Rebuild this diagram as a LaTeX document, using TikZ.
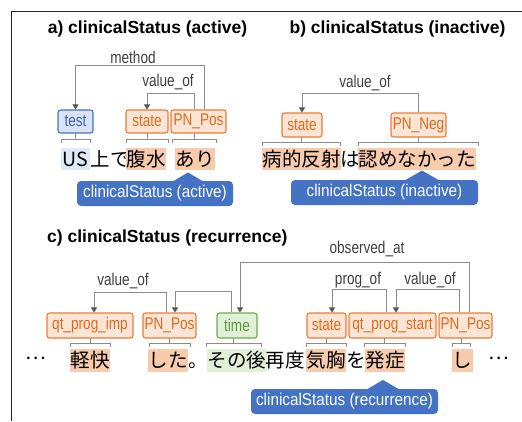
\documentclass[tikz,border=0pt]{standalone}
\usepackage{fontspec}
\setmainfont{Liberation Sans}
\newfontfamily\jpfont{Noto Sans CJK JP}
\newfontfamily\nrwfont[FakeStretch=0.8]{Liberation Sans}
\newfontfamily\calfont[FakeStretch=0.9]{Liberation Sans}
\usetikzlibrary{arrows.meta,calc}
\definecolor{obord}{HTML}{ED7D31}
\definecolor{ofill}{HTML}{FBE5D6}
\definecolor{otext}{HTML}{E06A1B}
\definecolor{ohl}{HTML}{F8CBAD}
\definecolor{bbord}{HTML}{4472C4}
\definecolor{bfill}{HTML}{DAE3F3}
\definecolor{btext}{HTML}{3A66B8}
\definecolor{bhl}{HTML}{DEEBF7}
\definecolor{gbord}{HTML}{70AD47}
\definecolor{gfill}{HTML}{E2F0D9}
\definecolor{gtext}{HTML}{5A9A3A}
\definecolor{ghl}{HTML}{E2F0D9}
\definecolor{callb}{HTML}{4472C4}
\definecolor{connc}{HTML}{8C8C8C}
\definecolor{arrc}{HTML}{555555}
\definecolor{lblc}{HTML}{404040}
\newcommand\mybrk[4]{%
  \draw[brk] (#1,#3+4) -- (#1,#3) -- (#2,#3) -- (#2,#3+4);
  \draw[brk] (#1/2+#2/2,#3) -- (#1/2+#2/2,#4);}
\begin{document}
\begin{tikzpicture}[x=1pt,y=-1pt,
  box/.style={draw, rounded corners=2.5pt, line width=1.1pt, inner sep=0pt,
    font=\nrwfont\fontsize{17}{19}\selectfont},
  obox/.style={box, draw=obord, fill=ofill, text=otext},
  bbox/.style={box, draw=bbord, fill=bfill, text=btext},
  gbox/.style={box, draw=gbord, fill=gfill, text=gtext},
  ttl/.style={font=\fontsize{17.5}{20}\selectfont\bfseries, inner sep=0pt},
  lab/.style={font=\nrwfont\fontsize{17}{19}\selectfont, text=lblc, inner sep=0pt},
  conn/.style={draw=connc, line width=0.9pt, -{Triangle[length=5pt,width=6pt,color=arrc]}},
  brk/.style={draw=connc, line width=0.9pt},
  tok/.style={anchor=base west, inner xsep=0.5pt, inner ysep=1.5pt,
    text height=17pt, text depth=2.5pt, font=\jpfont\fontsize{19.5}{22}\selectfont},
  hlo/.style={tok, fill=ohl},
  call/.style={fill=callb, rounded corners=4pt, inner sep=0pt, text=white,
    font=\calfont\fontsize{17}{19}\selectfont},
]
\useasboundingbox (0,0) rectangle (522,421);
\fill[white] (0,0) rectangle (522,421);
\draw[line width=1pt, black!85] (11,421) -- (11,11) -- (522,11);

% titles
\node[ttl] (ta) at (147.5,29) {a) clinicalStatus (active)};
\node[ttl] (tb) at (397.5,29) {b) clinicalStatus (inactive)};
\node[ttl, anchor=west] (tc) at (47,238) {c) clinicalStatus (recurrence)};

% ---------- panel a ----------
\node[bbox, minimum width=35pt, minimum height=23pt] (atest) at (75.5,121.5) {test};
\node[obox, minimum width=42pt, minimum height=23pt] (astate) at (147,121.5) {state};
\node[obox, minimum width=55pt, minimum height=23pt] (apn) at (198.5,121.5) {PN\_Pos};

\coordinate (ra1) at (0,65);
\coordinate (ra2) at (0,93);
\draw[conn] ($(apn.north)+(5.5,0)$) coordinate (sa1) -- (sa1 |- ra1) -| (atest.north);
\draw[conn] ($(apn.north)+(-4.5,0)$) coordinate (sa2) -- (sa2 |- ra2) -| (astate.north);
\node[lab] (lmethod) at (133,57) {method};
\node[lab] (lvala) at (168,82) {value\_of};

\mybrk{61}{90}{139}{133}
\mybrk{126}{168}{139}{133}
\mybrk{172}{216}{139}{133}

\node[tok, fill=bhl, minimum width=29pt] (wus) at (61,166) {US};
\node[tok] (wue) at (90,166) {上で};
\node[hlo] (wfk) at (126,166) {腹水};
\node[hlo] (wari) at (175,166) {あり};

\node[call, minimum width=156pt, minimum height=25pt] (ca) at (155,193.5) {clinicalStatus (active)};
\coordinate (tipa) at (188,172.5);
\fill[callb] ($(ca.north -| tipa)+(-15,0.5)$) -- (tipa) -- ($(ca.north -| tipa)+(15,0.5)$) -- cycle;

% ---------- panel b ----------
\node[obox, minimum width=40pt, minimum height=24pt] (bstate) at (302,125) {state};
\node[obox, minimum width=55pt, minimum height=24pt] (bpn) at (418.5,125) {PN\_Neg};
\coordinate (rb1) at (0,93);
\draw[conn] (bpn.north) -- (bpn.north |- rb1) -| (bstate.north);
\node[lab] (lvalb) at (365,83) {value\_of};

\mybrk{262}{340}{142}{137}
\mybrk{358}{478}{142}{137}

\node[hlo] (wbt) at (262,166) {病的反射};
\node[tok] (wha) at (340,166) {は};
\node[hlo] (wmt) at (358,166) {認めなかった};

\node[call, minimum width=187pt, minimum height=25pt] (cb) at (384.5,192.5) {clinicalStatus (inactive)};
\coordinate (tipb) at (422,170.5);
\fill[callb] ($(cb.north -| tipb)+(-17,0.5)$) -- (tipb) -- ($(cb.north -| tipb)+(17,0.5)$) -- cycle;

% ---------- panel c ----------
\node[obox, minimum width=86pt, minimum height=25pt] (cqimp) at (90,325.5) {qt\_prog\_imp};
\node[obox, minimum width=53pt, minimum height=25pt] (cpn1) at (169.5,325.5) {PN\_Pos};
\node[gbox, minimum width=40pt, minimum height=25pt] (ctime) at (237,325.5) {time};
\node[obox, minimum width=39pt, minimum height=25pt] (cstate) at (326.5,325.5) {state};
\node[obox, minimum width=87pt, minimum height=25pt] (cqstart) at (392.5,325.5) {qt\_prog\_start};
\node[obox, minimum width=53pt, minimum height=25pt] (cpn2) at (465.5,325.5) {PN\_Pos};

\coordinate (rc1) at (0,292);
\coordinate (rc2) at (0,291);
\coordinate (rc3) at (0,262);
\coordinate (rc4) at (0,289);
\coordinate (ec1) at ($(cqimp.north)+(4,0)$);
\coordinate (ec2) at ($(cpn1.north)+(5.5,0)$);
\coordinate (ec3) at ($(ctime.north)+(3,0)$);
\coordinate (ec4) at ($(cstate.north)+(5.5,0)$);
\coordinate (ec5) at ($(cqstart.north)+(3.5,0)$);
\draw[conn] ($(cpn1.north)+(-3.5,0)$) coordinate (sc1) -- (sc1 |- rc1) -| (ec1);
\draw[conn] ($(ctime.north)+(-6,0)$) coordinate (sc2) -- (sc2 |- rc2) -| (ec2);
\draw[conn] ($(cpn2.north)+(3.5,0)$) coordinate (sc3) -- (sc3 |- rc3) -| (ec3);
\draw[conn] ($(cqstart.north)+(-6.5,0)$) coordinate (sc4) -- (sc4 |- rc4) -| (ec4);
\draw[conn] ($(cpn2.north)+(-6.5,0)$) coordinate (sc5) -- (sc5 |- rc4) -| (ec5);
\node[lab] (lvalc1) at (123,281) {value\_of};
\node[lab] (lobs) at (367,249) {observed\_at};
\node[lab] (lprog) at (358,280) {prog\_of};
\node[lab] (lvalc2) at (430,280) {value\_of};

\mybrk{70}{110}{343}{338}
\mybrk{149}{190}{343}{338}
\mybrk{206}{261}{343}{338}
\mybrk{306}{346}{343}{338}
\mybrk{364}{405}{343}{338}
\mybrk{452}{470}{343}{338}

\node[tok] (wd1) at (25,359) {…};
\node[hlo] (wkk) at (70,367.5) {軽快};
\node[hlo] (wsta) at (148,367.5) {した};
\node[tok] (wmaru) at (188,367.5) {。};
\node[tok, fill=ghl] (wsng) at (207,367.5) {その後};
\node[tok] (wsd) at (265,367.5) {再度};
\node[hlo] (wkk2) at (306,367.5) {気胸};
\node[tok] (wwo) at (346,367.5) {を};
\node[hlo] (whs) at (365,367.5) {発症};
\node[hlo] (wsi) at (452,367.5) {し};
\node[tok] (wd2) at (488,359) {…};

\node[call, minimum width=187pt, minimum height=25pt] (cc) at (344.5,401.5) {clinicalStatus (recurrence)};
\coordinate (tipc) at (383,380);
\fill[callb] ($(cc.north -| tipc)+(-16,0.5)$) -- (tipc) -- ($(cc.north -| tipc)+(16,0.5)$) -- cycle;
\end{tikzpicture}
\end{document}
